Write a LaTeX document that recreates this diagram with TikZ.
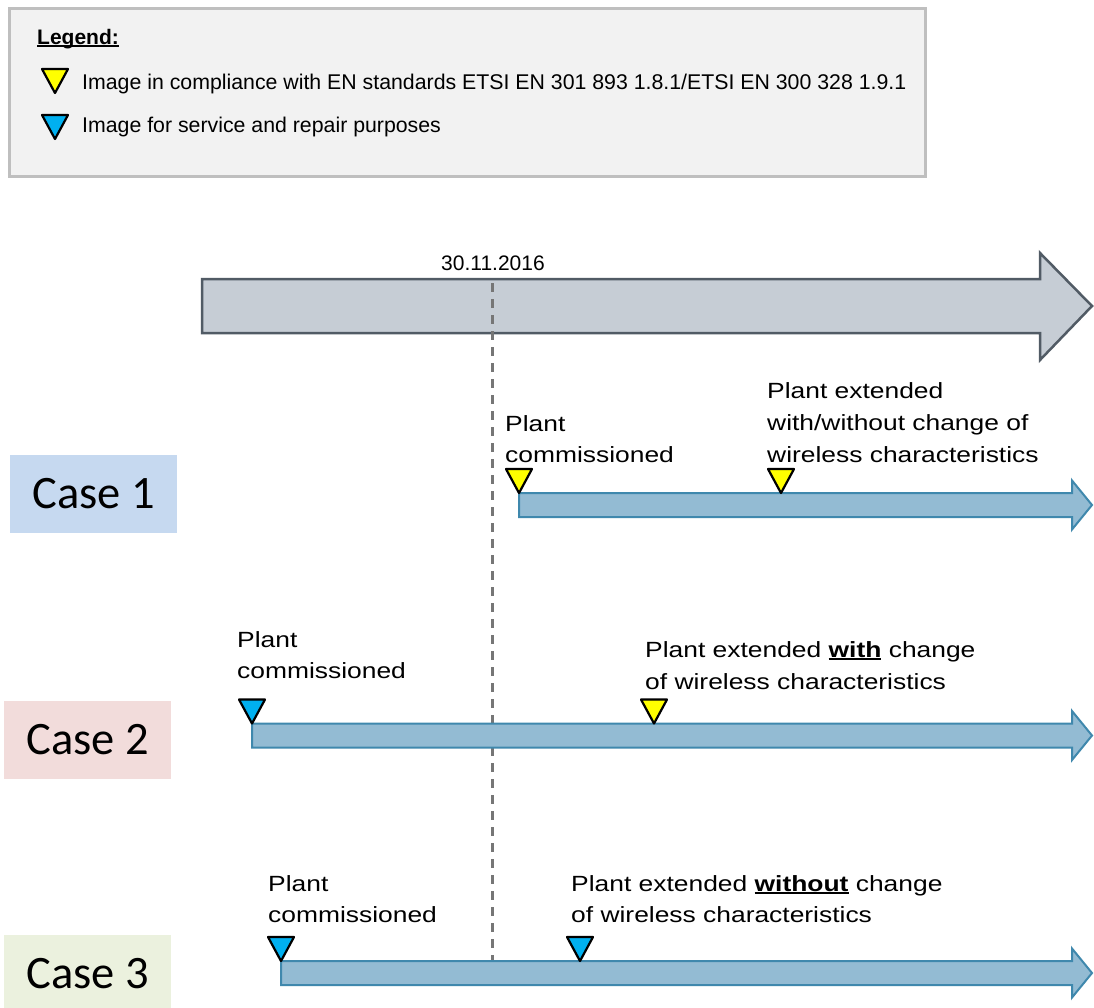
\documentclass[tikz,border=0pt]{standalone}
\usepackage{fontspec}
\setmainfont{Liberation Sans}
\newfontfamily\casefont{Carlito}
\newfontfamily\plantfont[FakeStretch=1.2]{Liberation Sans}
\definecolor{legfill}{HTML}{F2F2F2}
\definecolor{legborder}{HTML}{BFBFBF}
\definecolor{timefill}{HTML}{C6CDD5}
\definecolor{timeborder}{HTML}{515B65}
\definecolor{barfill}{HTML}{93BBD3}
\definecolor{barborder}{HTML}{3F88AD}
\definecolor{markyellow}{HTML}{FFFF00}
\definecolor{markblue}{HTML}{00B0F0}
\definecolor{caseone}{HTML}{C6D9F0}
\definecolor{casetwo}{HTML}{F2DCDB}
\definecolor{casethree}{HTML}{EBF1DE}
\definecolor{dashgray}{HTML}{767676}
\newcommand{\myul}[2]{\setbox0\hbox{#2}\rlap{\rule[-#1]{\wd0}{1.8pt}}\box0\relax}
\newcommand{\marker}[3]{\filldraw[tri,fill=#3] ({#1-13},{#2-24}) -- ({#1+13},{#2-24}) -- (#1,#2) -- cycle;}
\newcommand{\casebar}[2]{\filldraw[barstyle] (#1,{#2-12}) -- (1072,{#2-12}) -- (1072,{#2-24.5}) -- (1092,#2) -- (1072,{#2+24.5}) -- (1072,{#2+12}) -- (#1,{#2+12}) -- cycle;}
\begin{document}
\begin{tikzpicture}[x=1pt,y=-1pt,
  tri/.style={draw=black,line width=2.2pt,line join=round},
  barstyle/.style={draw=barborder,fill=barfill,line width=2pt},
  timestyle/.style={draw=timeborder,fill=timefill,line width=2.5pt},
  dashline/.style={draw=dashgray,line width=3.3pt,dash pattern=on 9pt off 7pt},
  plant/.style={inner sep=0pt,anchor=base west,font=\plantfont\fontsize{22}{26}\selectfont},
  legtxt/.style={inner sep=0pt,anchor=base west,font=\fontsize{21.3}{25}\selectfont},
  casebox/.style={minimum width=167pt,minimum height=78pt,inner sep=0pt,font=\casefont\fontsize{46.5}{54}\selectfont}]
\useasboundingbox (0,0) rectangle (1094,1007);
\fill[white] (0,0) rectangle (1094,1007);
% legend
\filldraw[draw=legborder,fill=legfill,line width=3pt] (9,8) rectangle (925,176);
\node[legtxt,font=\bfseries\fontsize{21}{25}\selectfont] (leghead) at (37,44) {\myul{2.6pt}{Legend:}};
\marker{55}{93}{markyellow}
\marker{55}{139}{markblue}
\node[legtxt] (legone) at (82,89) {Image in compliance with EN standards ETSI EN 301 893 1.8.1/ETSI EN 300 328 1.9.1};
\node[legtxt] (legtwo) at (82,132) {Image for service and repair purposes};
% time arrow
\filldraw[timestyle] (202,279) -- (1040,279) -- (1040,253) -- (1092,306) -- (1040,360) -- (1040,333) -- (202,333) -- cycle;
\node[inner sep=0pt,anchor=base,font=\fontsize{21}{25}\selectfont] (date) at (493,270) {30.11.2016};
\coordinate (dtop) at (492.5,283);
\coordinate (dbot) at (492.5,961);
\draw[dashline] (dtop) -- (dbot);
% case bars
\casebar{519}{505}
\casebar{252}{735.5}
\casebar{281}{973}
\marker{519}{493}{markyellow}
\marker{781}{493}{markyellow}
\marker{252}{723.5}{markblue}
\marker{654}{723.5}{markyellow}
\marker{281}{961}{markblue}
\marker{580}{961}{markblue}
% texts case 1
\node[plant] (c1a) at (505,431) {Plant};
\node[plant] (c1b) at (505,462) {commissioned};
\node[plant] (c1c) at (767,398) {Plant extended};
\node[plant] (c1d) at (767,430) {with/without change of};
\node[plant] (c1e) at (767,462) {wireless characteristics};
% texts case 2
\node[plant] (c2a) at (237,647) {Plant};
\node[plant] (c2b) at (237,678) {commissioned};
\node[plant] (c2c) at (645,657) {Plant extended \myul{3.2pt}{\bfseries with} change};
\node[plant] (c2d) at (645,689) {of wireless characteristics};
% texts case 3
\node[plant] (c3a) at (268,891) {Plant};
\node[plant] (c3b) at (268,922) {commissioned};
\node[plant] (c3c) at (571,891) {Plant extended \myul{3.2pt}{\bfseries without} change};
\node[plant] (c3d) at (571,922) {of wireless characteristics};
% case boxes
\node[casebox,fill=caseone] (case1) at (93.5,494) {Case 1};
\node[casebox,fill=casetwo] (case2) at (87.5,740) {Case 2};
\node[casebox,fill=casethree] (case3) at (87.5,974) {Case 3};
\end{tikzpicture}
\end{document}
